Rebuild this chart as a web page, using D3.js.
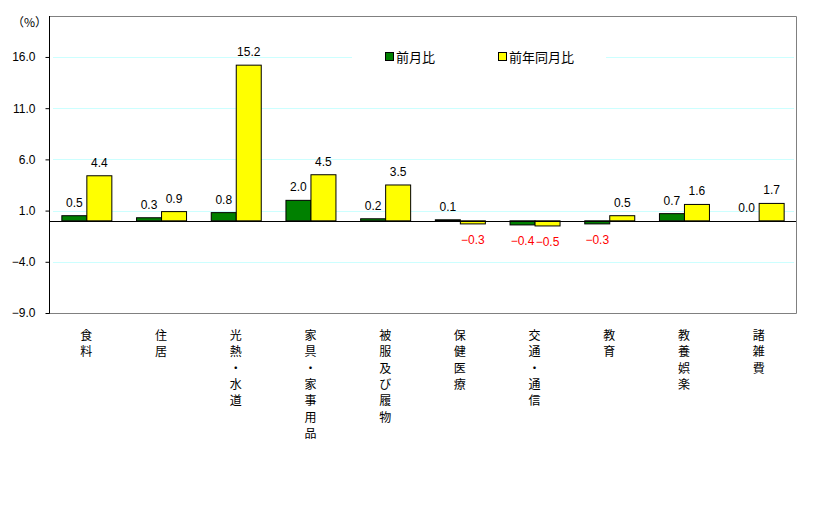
<!DOCTYPE html>
<html><head><meta charset="utf-8">
<script src="https://cdn.jsdelivr.net/npm/d3@7"></script>
<style>body{margin:0;background:#fff;} svg{display:block;}</style>
</head><body>
<svg id="c" width="839" height="513"></svg>
<script>
const categories = ["食料","住居","光熱・水道","家具・家事用品","被服及び履物","保健医療","交通・通信","教育","教養娯楽","諸雑費"];
const seriesNames = ["前月比","前年同月比"];
const momValues = [0.5, 0.3, 0.8, 2.0, 0.2, 0.1, -0.4, -0.3, 0.7, 0.0];
const yoyValues = [4.4, 0.9, 15.2, 4.5, 3.5, -0.3, -0.5, 0.5, 1.6, 1.7];
const yTicks = [-9, -4, 1, 6, 11, 16];
const colors = ["#008000", "#ffff00"];

const svg = d3.select("#c");
const L = 49, R = 796, T = 16, B = 313;
const numFont = "'Liberation Sans', Arial, sans-serif";
const jpFont = "'Noto Sans CJK JP', sans-serif";

const y = d3.scaleLinear().domain([-9, 20]).range([B, T]);
const x0 = d3.scaleBand().domain(categories).range([L, R]).paddingInner(0).paddingOuter(0);
const bw = 25;
const x1 = d3.scaleBand().domain(seriesNames).range([x0.bandwidth()/2 - bw, x0.bandwidth()/2 + bw]);

// grid lines
svg.append("g").selectAll("line").data(yTicks).join("line")
  .attr("x1", L + 4).attr("x2", R - 2)
  .attr("y1", d => Math.round(y(d)) + 0.5).attr("y2", d => Math.round(y(d)) + 0.5)
  .attr("stroke", "#ccffff").attr("stroke-width", 1);

// frame
svg.append("path")
  .attr("d", `M${L},${T+0.5}H${R+0.5}V${B+0.5}H${L}`)
  .attr("fill", "none").attr("stroke", "#808080").attr("stroke-width", 1);

// y axis
const yAxis = d3.axisLeft(y).tickValues(yTicks).tickFormat(d3.format(".1f")).tickSize(4).tickPadding(10);
const ya = svg.append("g").attr("transform", `translate(${L+0.5},0)`).call(yAxis);
ya.select(".domain").attr("stroke", "#000").attr("d", `M0,${T}V${B+0.5}`);
ya.selectAll(".tick line").attr("stroke", "#000");
ya.selectAll(".tick text").attr("font-family", numFont).attr("font-size", 12).attr("fill", "#000");

svg.append("text").attr("x", 12).attr("y", 27).attr("font-family", jpFont).attr("font-size", 12)
  .text("（%）");

// legend background
svg.append("rect").attr("x", 352).attr("y", 45).attr("width", 254).attr("height", 24).attr("fill", "#fff");
const lg = svg.append("g");
const legendX = [385, 498];
seriesNames.forEach((s, i) => {
  lg.append("rect").attr("x", legendX[i] + 0.5).attr("y", 52.5).attr("width", 8).attr("height", 8)
    .attr("fill", colors[i]).attr("stroke", "#000");
  lg.append("text").attr("x", legendX[i] + 11).attr("y", 62).attr("font-family", jpFont)
    .attr("font-size", 13).attr("fill", "#000").text(s);
});

// bars
const data = categories.map((c, i) => ({c, vals: [momValues[i], yoyValues[i]]}));
const groups = svg.append("g").selectAll("g").data(data).join("g")
  .attr("transform", d => `translate(${x0(d.c)},0)`);

groups.selectAll("rect").data(d => d.vals.map((v, k) => ({v, k}))).join("rect")
  .attr("x", d => x1(seriesNames[d.k]) + 0.5)
  .attr("width", bw)
  .attr("y", d => Math.min(y(d.v), y(0)))
  .attr("height", d => Math.abs(y(d.v) - y(0)))
  .attr("fill", d => colors[d.k]).attr("stroke", "#000").attr("stroke-width", 1);

groups.selectAll("text").data(d => d.vals.map((v, k) => ({v, k}))).join("text")
  .attr("x", d => x1(seriesNames[d.k]) + bw/2 + 0.5)
  .attr("y", d => d.v >= 0 ? y(d.v) - 9 : y(d.v) + 20)
  .attr("text-anchor", "middle")
  .attr("font-family", numFont).attr("font-size", 12)
  .attr("fill", d => d.v < 0 ? "#ff0000" : "#000")
  .text(d => d.v < 0 ? "\u2212" + d3.format(".1f")(-d.v) : d3.format(".1f")(d.v));

// zero line
svg.append("line").attr("x1", L).attr("x2", R).attr("y1", Math.round(y(0)) + 0.5).attr("y2", Math.round(y(0)) + 0.5)
  .attr("stroke", "#000").attr("stroke-width", 1);

// category labels (vertical)
const cl = svg.append("g").selectAll("text").data(categories).join("text")
  .attr("font-family", jpFont).attr("font-size", 12).attr("fill", "#000")
  .attr("text-anchor", "middle");
cl.each(function(c) {
  const t = d3.select(this);
  const cx = x0(c) + x0.bandwidth()/2;
  Array.from(c).forEach((ch, i) => {
    t.append("tspan").attr("x", cx).attr("y", 340 + i * 16.3).text(ch);
  });
});
</script>
</body></html>
